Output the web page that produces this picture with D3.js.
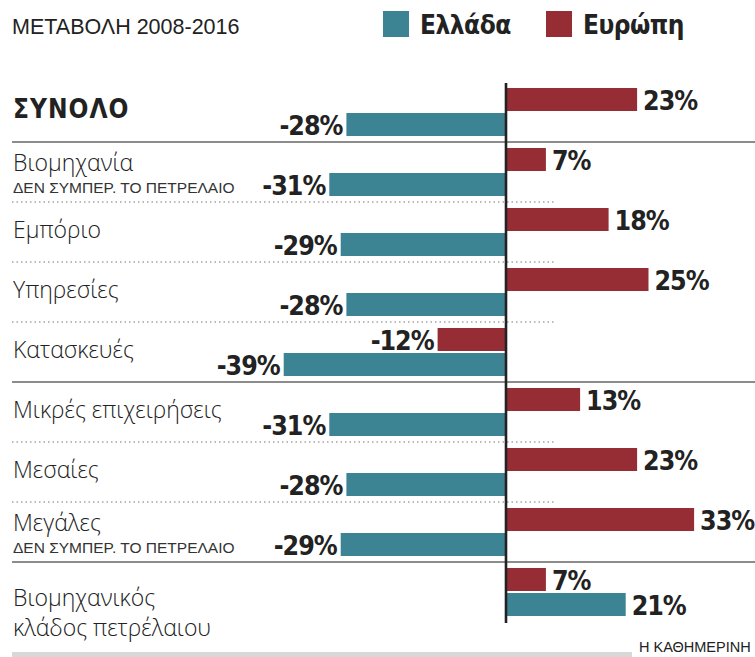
<!DOCTYPE html>
<html>
<head>
<meta charset="utf-8">
<script src="https://cdn.jsdelivr.net/npm/d3@7"></script>
<style>
  body { margin: 0; background: #fff; }
  svg { display: block; }
</style>
</head>
<body>
<svg id="canvas"></svg>
<script>
const categories = ["ΣΥΝΟΛΟ", "Βιομηχανία", "Εμπόριο", "Υπηρεσίες", "Κατασκευές",
  "Μικρές επιχειρήσεις", "Μεσαίες", "Μεγάλες", "Βιομηχανικός|κλάδος πετρέλαιου"];
const notes = ["", "ΔΕΝ ΣΥΜΠΕΡ. ΤΟ ΠΕΤΡΕΛΑΙΟ", "", "", "", "", "", "ΔΕΝ ΣΥΜΠΕΡ. ΤΟ ΠΕΤΡΕΛΑΙΟ", ""];
const greece = [-28, -31, -29, -28, -39, -31, -28, -29, 21];
const europe = [23, 7, 18, 25, -12, 13, 23, 33, 7];
// separator under each row except the last: solid or dotted
const separators = ["solid", "dot", "dot", "dot", "solid", "dot", "dot", "solid"];
const seriesNames = ["Ελλάδα", "Ευρώπη"];
const title = "ΜΕΤΑΒΟΛΗ 2008-2016";
const source = "Η ΚΑΘΗΜΕΡΙΝΗ";

const width = 755, height = 657;
const teal = "#3c8493", red = "#962d35";
const labelFont = "'Open Sans', sans-serif";
const boldFont = "'DejaVu Sans Condensed', 'DejaVu Sans', sans-serif";
const narrowFont = "'Liberation Sans Narrow', 'Liberation Sans', sans-serif";

const svg = d3.select("#canvas").attr("width", width).attr("height", height);

const x = d3.scaleLinear().domain([-40, 40]).range([278, 734]);
const y = d3.scaleBand().domain(d3.range(categories.length)).range([82, 622]);

// title + legend
svg.append("text")
  .attr("x", 12).attr("y", 34)
  .attr("font-family", narrowFont).attr("font-size", 21.5)
  .attr("fill", "#222")
  .text(title);

const legend = svg.append("g");
[[383, teal], [546, red]].forEach(([lx, c], i) => {
  legend.append("rect").attr("x", lx).attr("y", 11).attr("width", 26).attr("height", 26).attr("fill", c);
  legend.append("text")
    .attr("x", lx + 37).attr("y", 34)
    .attr("font-family", boldFont).attr("font-weight", "bold").attr("font-size", 26)
    .attr("letter-spacing", -0.5)
    .attr("fill", "#222")
    .text(seriesNames[i]);
});

// separators
separators.forEach((s, i) => {
  const sy = y(i) + y.bandwidth();
  svg.append("line")
    .attr("x1", 12).attr("x2", s === "solid" ? width : 555)
    .attr("y1", sy).attr("y2", sy)
    .attr("stroke", s === "solid" ? "#666" : "#777")
    .attr("stroke-width", s === "solid" ? 1.6 : 1.2)
    .attr("stroke-dasharray", s === "solid" ? null : "1.5,3");
});

// row labels
const rows = svg.append("g").selectAll("g").data(categories).join("g")
  .attr("transform", (d, i) => `translate(0,${y(i)})`);

rows.each(function (d, i) {
  const g = d3.select(this);
  const lines = d.split("|");
  const bold = i === 0;
  if (lines.length > 1) {
    lines.forEach((t, k) => {
      g.append("text").attr("x", 13).attr("y", 44 + k * 30)
        .attr("font-family", labelFont).attr("font-weight", 300).attr("font-size", 23)
        .attr("fill", "#222").text(t);
    });
  } else {
    g.append("text")
      .attr("x", 13).attr("y", notes[i] ? 29 : 36)
      .attr("font-family", bold ? boldFont : labelFont)
      .attr("font-weight", bold ? "bold" : 300)
      .attr("font-size", bold ? 26 : 23)
      .attr("letter-spacing", bold ? 1 : 0)
      .attr("fill", "#222").text(d);
  }
  if (notes[i]) {
    g.append("text").attr("x", 13).attr("y", 51)
      .attr("font-family", narrowFont).attr("font-size", 15.5)
      .attr("fill", "#333").text(notes[i]);
  }
});

// bars
const barH = 23;
const series = [
  { values: europe, color: red, off: 6 },
  { values: greece, color: teal, off: 31 }
];
series.forEach(s => {
  const g = svg.append("g");
  g.selectAll("rect").data(s.values).join("rect")
    .attr("x", d => x(Math.min(0, d)))
    .attr("width", d => Math.abs(x(d) - x(0)))
    .attr("y", (d, i) => y(i) + s.off)
    .attr("height", barH)
    .attr("fill", s.color);
  g.selectAll("text").data(s.values).join("text")
    .attr("x", d => d < 0 ? x(d) - 4 : x(d) + 6)
    .attr("y", (d, i) => y(i) + s.off + barH - 1)
    .attr("text-anchor", d => d < 0 ? "end" : "start")
    .attr("font-family", boldFont).attr("font-weight", "bold").attr("font-size", 26.5)
    .attr("letter-spacing", -1)
    .attr("fill", "#222")
    .text(d => `${d}%`);
});

// zero axis
svg.append("line")
  .attr("x1", x(0)).attr("x2", x(0))
  .attr("y1", 83).attr("y2", 623)
  .attr("stroke", "#222").attr("stroke-width", 2.6);

// footer
svg.append("rect").attr("x", 12).attr("y", 652).attr("width", 620).attr("height", 5).attr("fill", "#d8d8d8");
svg.append("text")
  .attr("x", 639).attr("y", 652)
  .attr("font-family", narrowFont).attr("font-size", 14.5)
  .attr("fill", "#222").text(source);
</script>
</body>
</html>
